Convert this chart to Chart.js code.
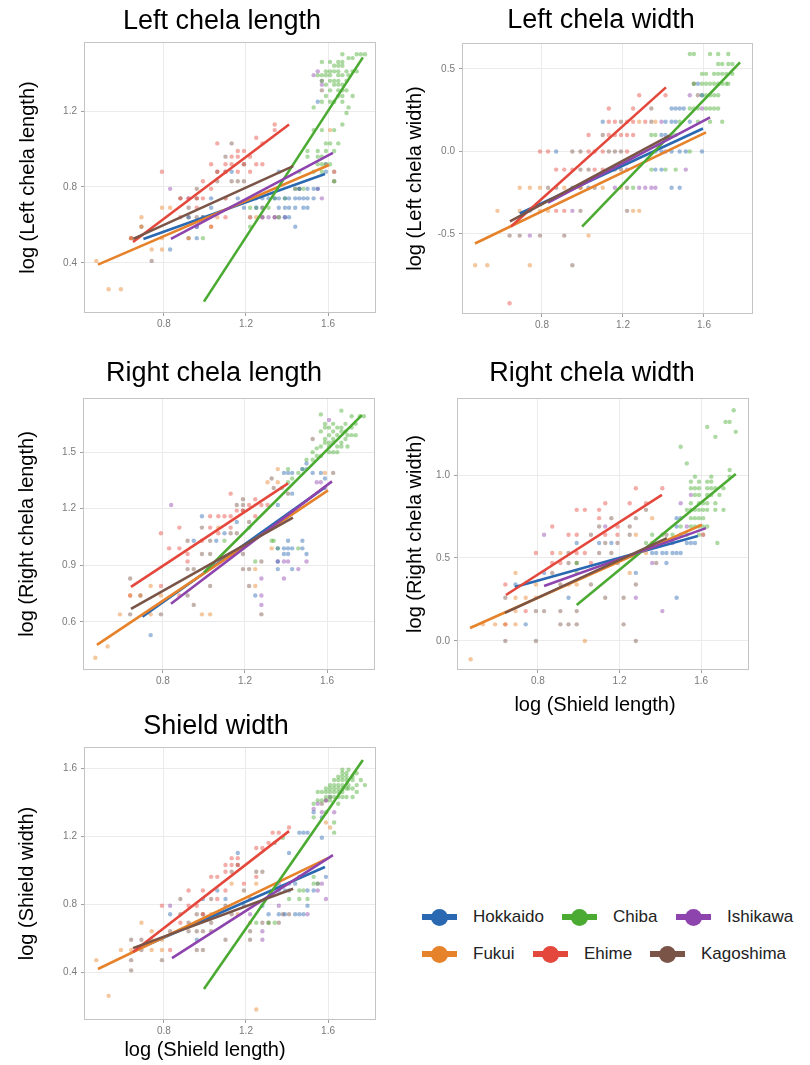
<!DOCTYPE html>
<html>
<head>
<meta charset="utf-8">
<script src="https://cdn.jsdelivr.net/npm/chart.js@4.4.1/dist/chart.umd.min.js"></script>
<style>
  body { margin: 0; background: #fff; width: 810px; height: 1065px; position: relative; overflow: hidden;
         font-family: "Liberation Sans", Arial, Helvetica, sans-serif; }
  canvas { position: absolute; }
  .lg { position: absolute; height: 18px; display: flex; align-items: center; font-size: 17px; color: #222; white-space: nowrap; }
  .mk { position: relative; width: 35px; height: 18px; margin-right: 16px; }
  .mk::before { content: ""; position: absolute; left: 0; right: 0; top: 6px; height: 6px; background: var(--c); }
  .mk::after { content: ""; position: absolute; left: 9px; top: 1px; width: 17px; height: 17px; border-radius: 50%; background: var(--c); }
</style>
</head>
<body>
<canvas id="lcl" width="400" height="335" style="left:0;top:0"></canvas>
<canvas id="lcw" width="410" height="335" style="left:400px;top:0"></canvas>
<canvas id="rcl" width="400" height="345" style="left:0;top:345px"></canvas>
<canvas id="rcw" width="410" height="375" style="left:400px;top:345px"></canvas>
<canvas id="sw" width="400" height="370" style="left:0;top:695px"></canvas>
<div id="legend"></div>

<script>
const regions = ["Hokkaido", "Fukui", "Chiba", "Ehime", "Ishikawa", "Kagoshima"];
const colors = ["#2a69b1", "#e6822a", "#4aaa31", "#e4473c", "#8d44ad", "#7a5547"];
const xTicks = [0.8, 1.2, 1.6];

// ---- Left chela length ----
const lclTicks = [0.4, 0.8, 1.2];
const lclPoints = {
  Hokkaido: [[0.83,0.47],[0.96,0.53],[0.96,0.59],[0.99,0.64],[1.03,0.69],[1.13,0.88],[1.16,0.74],[1.19,0.69],[1.25,0.69],[1.28,0.69],[1.31,0.74],[1.34,0.74],[1.36,0.74],[1.39,0.74],[1.41,0.74],[1.44,0.74],[1.46,0.74],[1.48,0.74],[1.50,0.74],[1.53,0.74],[1.36,0.69],[1.39,0.69],[1.41,0.69],[1.44,0.69],[1.48,0.69],[1.50,0.69],[1.50,0.79],[1.53,0.79],[1.55,0.79],[1.44,0.59],[1.39,0.64],[1.55,1.25],[1.59,0.88],[1.46,0.79],[1.36,0.88],[1.41,0.64],[1.28,0.74],[1.03,0.74],[0.92,0.64]],
  Fukui: [[0.47,0.41],[0.53,0.26],[0.59,0.26],[0.69,0.64],[0.69,0.59],[0.74,0.47],[0.79,0.47],[0.79,0.69],[0.83,0.69],[0.79,0.53],[0.92,0.53],[1.03,0.59],[1.06,0.64],[1.22,0.64],[1.25,0.64],[1.61,1.10],[1.63,0.88],[0.64,0.53],[1.10,0.74],[1.28,0.69]],
  Chiba: [[1.67,1.50],[1.74,1.50],[1.76,1.50],[1.78,1.50],[1.70,1.48],[1.72,1.48],[1.57,1.46],[1.61,1.46],[1.65,1.46],[1.67,1.46],[1.63,1.44],[1.65,1.44],[1.67,1.44],[1.59,1.41],[1.61,1.41],[1.63,1.41],[1.65,1.41],[1.69,1.41],[1.72,1.41],[1.74,1.41],[1.55,1.39],[1.57,1.39],[1.59,1.39],[1.61,1.39],[1.65,1.39],[1.67,1.39],[1.70,1.39],[1.57,1.36],[1.61,1.36],[1.63,1.36],[1.65,1.36],[1.69,1.36],[1.59,1.34],[1.63,1.34],[1.65,1.34],[1.67,1.34],[1.61,1.31],[1.65,1.31],[1.67,1.31],[1.69,1.31],[1.59,1.28],[1.65,1.28],[1.67,1.28],[1.72,1.28],[1.57,1.25],[1.61,1.25],[1.63,1.25],[1.67,1.25],[1.53,1.22],[1.70,1.22],[1.69,1.19],[1.67,1.13],[1.53,1.10],[1.57,1.10],[1.63,1.10],[1.59,1.03],[1.61,1.03],[1.65,1.03],[1.50,0.99],[1.55,0.99],[1.59,0.99],[1.63,0.99],[1.50,0.96],[1.55,0.96],[1.57,0.96],[1.55,0.92],[1.57,0.92],[1.59,0.92],[1.61,0.92],[1.46,0.88],[1.53,0.88],[1.57,0.88],[1.44,0.79],[1.46,0.79],[1.48,0.79],[1.63,0.83],[1.34,0.74],[1.39,0.74],[1.22,0.69],[1.25,0.69],[1.31,0.69],[0.99,0.53],[1.22,0.59],[1.36,0.64]],
  Ehime: [[0.64,0.53],[0.79,0.88],[0.88,0.74],[0.92,0.74],[0.96,0.69],[0.99,0.83],[1.03,0.79],[1.06,1.03],[1.06,0.88],[1.10,0.92],[1.13,0.96],[1.13,0.92],[1.16,0.99],[1.16,0.96],[1.19,0.99],[1.19,0.92],[1.22,0.96],[1.25,1.06],[1.28,1.03],[1.34,1.13],[1.34,1.10],[1.25,0.92],[1.28,0.92],[0.88,0.64],[1.03,0.59],[1.10,0.64],[1.03,0.92],[0.96,0.74],[1.10,0.88],[1.22,0.88],[0.99,0.74],[1.16,0.88]],
  Ishikawa: [[0.83,0.79],[0.96,0.59],[1.22,0.64],[1.28,0.64],[1.31,0.64],[1.34,0.64],[1.36,0.64],[1.39,0.64],[1.53,1.39],[1.57,1.36],[1.55,0.79],[1.57,0.74],[1.63,0.88],[1.59,0.92],[1.44,0.79],[1.46,0.79],[1.55,1.41],[1.57,1.34],[1.10,0.74],[1.25,0.74],[0.92,0.74]],
  Kagoshima: [[0.64,0.53],[0.69,0.59],[0.74,0.41],[0.88,0.74],[0.92,0.69],[0.96,0.79],[0.96,0.64],[0.99,0.64],[1.06,0.83],[1.10,0.96],[1.13,0.83],[1.16,0.83],[1.19,0.83],[1.13,1.03],[1.19,0.92],[1.28,0.64],[1.34,0.64],[1.63,0.83],[1.57,1.31],[0.92,0.53],[1.10,0.88],[0.96,0.74],[0.92,0.64],[1.06,0.88]]
};
const lclFits = {
  Hokkaido: [0.70, 0.526, 1.585, 0.868],
  Fukui: [0.478, 0.39, 1.605, 0.916],
  Chiba: [0.995, 0.195, 1.77, 1.484],
  Ehime: [0.649, 0.51, 1.41, 1.13],
  Ishikawa: [0.834, 0.526, 1.624, 0.98],
  Kagoshima: [0.65, 0.526, 1.43, 0.91]
};

// ---- Left chela width ----
const lcwTicks = [-0.5, 0.0, 0.5];
const lcwPoints = {
  Hokkaido: [[0.87,0],[0.74,-0.36],[0.95,-0.22],[1.36,0],[1.39,0],[1.44,0],[1.48,0],[1.51,0],[1.59,0],[1.36,-0.11],[1.39,-0.11],[1.39,0.10],[1.41,0.10],[1.41,0.18],[1.44,0.18],[1.46,0.18],[1.53,0.18],[1.44,0.26],[1.46,0.26],[1.48,0.26],[1.50,0.26],[1.59,0.34],[1.44,-0.22],[1.48,-0.22],[1.03,-0.22],[1.10,0.18],[1.57,0.41]],
  Fukui: [[0.47,-0.69],[0.53,-0.69],[0.74,-0.69],[0.58,-0.36],[0.69,-0.36],[0.79,-0.36],[0.83,-0.36],[0.69,-0.22],[0.74,-0.22],[0.79,-0.22],[0.91,-0.22],[1.03,-0.51],[1.10,-0.22],[1.25,-0.36],[1.28,-0.36],[1.28,0.18],[1.36,0.18],[1.19,-0.22],[0.99,-0.22]],
  Chiba: [[1.53,0.59],[1.55,0.59],[1.63,0.59],[1.67,0.59],[1.72,0.59],[1.67,0.53],[1.69,0.53],[1.72,0.53],[1.74,0.53],[1.59,0.47],[1.61,0.47],[1.65,0.47],[1.67,0.47],[1.69,0.47],[1.71,0.47],[1.74,0.47],[1.55,0.41],[1.59,0.41],[1.61,0.41],[1.63,0.41],[1.65,0.41],[1.67,0.41],[1.71,0.41],[1.72,0.41],[1.59,0.34],[1.61,0.34],[1.63,0.34],[1.65,0.34],[1.67,0.34],[1.53,0.26],[1.55,0.26],[1.57,0.26],[1.63,0.26],[1.65,0.26],[1.67,0.26],[1.48,0.18],[1.63,0.18],[1.69,0.18],[1.34,0.10],[1.36,0.10],[1.46,0.10],[1.53,0],[1.34,-0.11],[1.41,-0.11],[1.46,-0.11],[1.25,-0.22],[1.57,0.18],[1.61,0.26],[1.69,0.41]],
  Ehime: [[0.64,-0.92],[0.79,0],[0.83,0],[0.87,-0.36],[0.91,-0.36],[0.87,-0.11],[0.91,-0.11],[0.95,-0.11],[1.03,0],[1.06,0],[1.10,0],[1.03,0.10],[1.13,0.10],[1.16,0.10],[1.19,0.10],[1.22,0.10],[1.25,0.10],[1.13,0.18],[1.16,0.18],[1.22,0.18],[1.25,0.18],[1.31,0.18],[1.13,0.26],[1.25,0.26],[1.28,0.34],[1.41,0.34],[1.06,-0.11],[1.10,-0.11],[1.22,0]],
  Ishikawa: [[0.74,-0.51],[0.95,-0.36],[1.41,0],[1.44,0.10],[1.39,0.18],[1.59,0.26],[1.51,-0.11],[1.28,-0.22],[1.31,-0.22],[1.34,-0.22],[1.36,-0.22],[1.16,-0.22],[1.22,-0.11],[1.53,0.34]],
  Kagoshima: [[0.64,-0.51],[0.69,-0.51],[0.79,-0.51],[0.91,-0.51],[0.95,-0.69],[0.99,-0.36],[0.83,-0.22],[0.87,-0.22],[0.99,-0.22],[1.06,-0.22],[1.22,-0.36],[1.22,-0.22],[0.95,0],[0.99,0],[1.13,0],[1.16,0],[1.19,0],[0.99,-0.11],[1.03,-0.11],[1.13,-0.11],[1.16,-0.11],[1.19,-0.11],[1.10,0.10],[1.19,0.18],[1.34,0.18],[1.34,0.26],[1.57,0.34],[1.55,0.41]]
};
const lcwFits = {
  Hokkaido: [0.69, -0.376, 1.595, 0.139],
  Fukui: [0.469, -0.558, 1.61, 0.115],
  Chiba: [0.998, -0.455, 1.778, 0.54],
  Ehime: [0.647, -0.455, 1.412, 0.388],
  Ishikawa: [0.83, -0.31, 1.63, 0.206],
  Kagoshima: [0.642, -0.424, 1.432, 0.097]
};

// ---- Right chela length ----
const rclTicks = [0.6, 0.9, 1.2, 1.5];
const rclPoints = {
  Hokkaido: [[0.74,0.53],[1.25,0.74],[1.36,0.88],[1.43,0.88],[1.39,0.96],[1.41,0.96],[1.50,0.96],[1.36,0.99],[1.39,0.99],[1.41,0.99],[1.43,0.99],[1.48,0.99],[0.95,1.03],[1.41,1.03],[1.48,1.03],[1.10,1.07],[0.99,1.16],[1.16,1.13],[1.36,1.22],[1.43,1.28],[1.39,1.39],[1.41,1.39],[1.43,1.39],[1.53,1.39],[1.57,1.39],[1.48,1.41],[1.50,1.41],[1.50,1.44],[1.59,1.36],[1.36,0.92],[1.06,1.03]],
  Fukui: [[0.47,0.41],[0.53,0.47],[0.59,0.64],[0.74,0.64],[0.99,0.64],[1.03,0.64],[0.74,0.79],[0.69,0.74],[1.25,0.79],[1.25,0.88],[1.33,0.99],[1.31,1.34],[1.36,1.34],[1.36,1.41],[1.59,1.39],[0.79,0.74],[1.07,1.10],[0.64,0.74]],
  Chiba: [[1.53,1.50],[1.55,1.52],[1.57,1.53],[1.59,1.55],[1.61,1.55],[1.63,1.55],[1.65,1.53],[1.67,1.55],[1.69,1.57],[1.70,1.59],[1.72,1.59],[1.74,1.59],[1.59,1.57],[1.61,1.59],[1.63,1.57],[1.65,1.59],[1.67,1.61],[1.57,1.61],[1.59,1.63],[1.61,1.63],[1.63,1.61],[1.65,1.63],[1.67,1.63],[1.69,1.65],[1.72,1.63],[1.74,1.65],[1.76,1.69],[1.78,1.69],[1.72,1.69],[1.63,1.65],[1.59,1.65],[1.67,1.53],[1.70,1.53],[1.57,1.48],[1.61,1.50],[1.55,1.48],[1.53,1.46],[1.57,1.70],[1.67,1.72],[1.50,1.46],[1.48,1.41],[1.46,1.39],[1.41,1.41],[1.43,1.36],[1.38,1.31],[1.41,1.34],[1.34,1.03],[1.36,0.99],[1.46,0.99],[1.33,1.03],[1.25,0.92],[1.10,1.03],[1.22,1.10],[1.65,1.50],[1.61,1.53],[1.69,1.61],[1.63,1.50]],
  Ehime: [[0.64,0.74],[0.79,0.79],[0.92,0.96],[0.83,0.99],[0.88,0.99],[0.79,1.07],[1.07,1.07],[0.88,1.10],[1.13,1.10],[1.03,1.16],[1.07,1.16],[1.10,1.16],[1.13,1.16],[1.25,1.16],[1.16,1.19],[1.22,1.22],[1.31,1.22],[1.25,1.25],[1.13,1.28],[0.88,0.74],[0.99,1.03],[1.19,1.19],[1.28,1.22],[0.92,0.92],[1.03,1.10]],
  Ishikawa: [[0.84,1.22],[1.28,0.69],[1.28,0.74],[1.28,0.83],[1.36,0.92],[1.39,0.92],[1.41,0.92],[1.50,0.92],[1.39,0.83],[1.57,1.34],[1.61,1.67],[1.59,1.31],[1.55,1.34],[1.46,0.88]],
  Kagoshima: [[0.64,0.64],[0.79,0.64],[1.28,0.64],[0.92,0.74],[0.64,0.83],[1.03,0.79],[1.22,0.79],[0.92,0.88],[0.95,0.88],[1.19,0.88],[1.22,0.88],[1.28,0.92],[0.99,0.96],[1.03,0.96],[1.19,0.96],[0.92,1.03],[1.03,1.03],[1.13,1.07],[1.16,1.07],[0.99,1.10],[1.22,1.13],[1.19,1.19],[1.16,1.22],[1.19,1.22],[1.19,1.25],[1.41,1.28],[1.33,1.36],[1.63,1.39],[1.53,1.57],[0.95,0.69],[1.34,1.31],[0.69,0.74]]
};
const rclFits = {
  Hokkaido: [0.70, 0.627, 1.59, 1.313],
  Fukui: [0.478, 0.478, 1.605, 1.297],
  Chiba: [1.0, 0.862, 1.77, 1.696],
  Ehime: [0.644, 0.786, 1.41, 1.334],
  Ishikawa: [0.839, 0.696, 1.624, 1.345],
  Kagoshima: [0.644, 0.669, 1.434, 1.153]
};

// ---- Right chela width ----
const rcwTicks = [0.0, 0.5, 1.0];
const rcwPoints = {
  Hokkaido: [[0.74,0.10],[0.69,0.34],[0.83,0.41],[0.95,0.26],[0.99,0.59],[1.10,0.59],[1.28,0.41],[1.43,0.47],[1.36,0.53],[1.38,0.53],[1.41,0.53],[1.43,0.53],[1.46,0.53],[1.48,0.53],[1.50,0.53],[1.53,0.59],[1.55,0.59],[1.57,0.59],[1.48,0.74],[1.50,0.74],[1.48,0.26],[1.48,0.69],[1.50,0.64],[1.16,0.59]],
  Fukui: [[0.47,-0.11],[0.53,0.10],[0.59,0.10],[0.64,0.10],[0.69,0.10],[1.03,0],[0.69,0.18],[0.69,0.26],[0.74,0.26],[0.79,0.26],[0.79,0.34],[0.69,0.41],[0.95,0.34],[0.99,0.34],[1.25,0.41],[1.28,0.64],[1.33,0.53],[1.36,0.59],[1.41,0.59],[1.36,0.74],[0.91,0.53],[1.61,0.64]],
  Chiba: [[0.99,0.47],[0.99,0.41],[1.33,0.59],[1.36,0.64],[1.41,0.64],[1.46,0.64],[1.50,0.69],[1.55,0.69],[1.57,0.69],[1.59,0.69],[1.61,0.69],[1.63,0.69],[1.55,0.74],[1.57,0.74],[1.59,0.74],[1.61,0.74],[1.53,0.79],[1.55,0.79],[1.57,0.79],[1.59,0.79],[1.61,0.79],[1.63,0.79],[1.67,0.79],[1.71,0.79],[1.55,0.83],[1.59,0.83],[1.61,0.83],[1.63,0.83],[1.67,0.83],[1.57,0.88],[1.59,0.88],[1.63,0.88],[1.65,0.88],[1.69,0.88],[1.55,0.92],[1.57,0.92],[1.59,0.92],[1.63,0.92],[1.65,0.92],[1.67,0.92],[1.71,0.92],[1.55,0.96],[1.59,0.96],[1.63,0.96],[1.65,0.96],[1.57,0.99],[1.65,0.99],[1.74,0.99],[1.74,1.03],[1.53,1.07],[1.50,1.17],[1.67,1.23],[1.63,1.29],[1.72,1.32],[1.74,1.32],[1.77,1.26],[1.76,1.39],[1.68,0.59],[1.53,0.64],[1.59,0.64]],
  Ehime: [[0.64,0.34],[0.74,0.18],[0.87,0.47],[0.91,0.47],[1.06,0.47],[0.79,0.53],[0.87,0.53],[0.99,0.53],[1.03,0.53],[0.99,0.64],[1.13,0.64],[1.19,0.64],[0.87,0.69],[1.19,0.69],[1.10,0.74],[0.99,0.79],[1.10,0.79],[1.13,0.83],[1.25,0.83],[1.33,0.83],[1.28,0.92],[1.41,0.92],[0.64,0.10],[1.03,0.79],[0.95,0.64]],
  Ishikawa: [[0.83,0.64],[1.13,0.69],[1.28,0.26],[1.41,0.18],[1.36,0.47],[1.53,0.69],[1.50,0.83],[1.55,0.88],[1.46,0.59],[1.61,0.64]],
  Kagoshima: [[0.64,0],[0.79,0],[1.28,0],[0.91,0.10],[0.95,0.10],[0.99,0.10],[1.22,0.10],[0.79,0.18],[0.91,0.18],[0.99,0.18],[0.64,0.26],[1.13,0.26],[1.22,0.26],[0.91,0.34],[1.06,0.34],[1.28,0.34],[0.87,0.41],[0.95,0.47],[1.19,0.47],[1.38,0.47],[0.95,0.53],[1.10,0.53],[1.16,0.53],[1.13,0.59],[1.19,0.59],[1.06,0.64],[1.25,0.64],[1.43,0.64],[1.10,0.69],[1.25,0.69],[1.16,0.74],[1.28,0.74],[1.33,0.79],[0.99,0.47],[0.83,0.18]]
};
const rcwFits = {
  Hokkaido: [0.687, 0.325, 1.584, 0.633],
  Fukui: [0.467, 0.078, 1.604, 0.70],
  Chiba: [0.99, 0.217, 1.77, 1.006],
  Ehime: [0.643, 0.277, 1.408, 0.88],
  Ishikawa: [0.83, 0.331, 1.624, 0.68],
  Kagoshima: [0.638, 0.169, 1.432, 0.62]
};

// ---- Shield width ----
const swTicks = [0.4, 0.8, 1.2, 1.6];
const swPoints = {
  Hokkaido: [[0.96,0.59],[0.83,0.74],[1.31,0.74],[1.44,0.74],[1.46,0.74],[1.48,0.74],[0.99,0.83],[1.10,0.83],[1.06,0.88],[1.36,0.88],[1.39,0.88],[1.41,0.88],[1.50,0.88],[1.53,0.88],[1.41,0.92],[1.44,0.92],[1.46,0.96],[1.59,0.96],[1.16,1.10],[1.41,1.10],[1.46,1.22],[1.48,1.22],[1.50,1.22],[1.57,1.31],[1.53,1.34],[1.57,1.19],[1.28,0.79],[1.50,0.79],[1.19,0.79],[1.36,0.74],[1.39,0.74]],
  Fukui: [[1.25,0.18],[0.53,0.26],[0.47,0.47],[0.59,0.53],[0.74,0.53],[0.79,0.53],[0.74,0.59],[0.79,0.59],[0.74,0.64],[0.69,0.69],[0.96,0.69],[1.03,0.74],[1.06,0.74],[1.16,0.74],[1.13,0.92],[1.25,0.92],[1.61,1.25],[1.59,1.28],[0.64,0.53],[1.22,0.69]],
  Chiba: [[1.25,0.69],[1.41,0.83],[1.46,0.83],[1.50,0.83],[1.46,0.88],[1.48,0.88],[1.53,0.96],[1.53,0.92],[1.55,0.92],[1.34,0.69],[1.31,0.69],[1.38,1.19],[1.53,1.39],[1.55,1.41],[1.57,1.41],[1.59,1.43],[1.61,1.43],[1.63,1.43],[1.65,1.43],[1.67,1.43],[1.69,1.43],[1.72,1.43],[1.55,1.46],[1.57,1.46],[1.59,1.46],[1.61,1.46],[1.63,1.46],[1.65,1.46],[1.67,1.46],[1.59,1.48],[1.61,1.48],[1.63,1.48],[1.65,1.48],[1.67,1.48],[1.69,1.48],[1.70,1.48],[1.72,1.48],[1.74,1.46],[1.61,1.50],[1.63,1.50],[1.65,1.50],[1.67,1.50],[1.70,1.50],[1.74,1.50],[1.63,1.53],[1.65,1.53],[1.67,1.53],[1.69,1.53],[1.72,1.53],[1.65,1.55],[1.67,1.55],[1.69,1.55],[1.72,1.55],[1.67,1.57],[1.69,1.57],[1.74,1.57],[1.67,1.59],[1.70,1.59],[1.78,1.50],[1.76,1.53],[1.61,1.41],[1.65,1.39],[1.59,1.34],[1.63,1.22],[1.63,1.28],[1.53,1.31]],
  Ehime: [[0.83,0.53],[0.79,0.79],[0.88,0.69],[0.92,0.79],[0.96,0.79],[0.92,0.88],[0.99,0.88],[1.10,0.88],[1.03,0.96],[1.06,0.96],[1.25,0.96],[1.10,0.99],[1.10,1.03],[1.13,1.03],[1.13,1.07],[1.16,1.07],[1.25,1.13],[1.28,1.13],[1.33,1.22],[1.36,1.22],[1.41,1.25],[1.19,0.92],[1.16,1.03],[0.99,0.74],[1.31,1.16],[1.06,0.83]],
  Ishikawa: [[0.83,0.79],[1.28,0.59],[1.28,0.64],[1.36,0.79],[1.50,0.74],[1.59,0.83],[1.55,0.88],[1.55,0.92],[1.57,0.92],[1.53,1.36],[1.57,1.34],[1.63,1.34],[1.55,1.39],[1.59,1.41],[1.61,1.43],[1.36,0.92],[1.22,0.74]],
  Kagoshima: [[0.64,0.41],[0.64,0.47],[0.79,0.47],[0.69,0.53],[0.96,0.53],[0.99,0.53],[0.64,0.59],[0.69,0.59],[1.10,0.59],[1.22,0.59],[0.83,0.64],[0.92,0.64],[0.96,0.64],[0.99,0.64],[1.03,0.64],[1.22,0.64],[0.92,0.69],[1.03,0.69],[1.28,0.69],[1.31,0.69],[1.36,0.69],[0.88,0.74],[0.96,0.74],[0.99,0.74],[1.13,0.74],[1.38,0.74],[1.41,0.74],[1.10,0.79],[0.88,0.83],[1.03,0.83],[1.22,0.83],[1.19,0.88],[1.13,0.99],[1.25,0.99],[1.28,0.99],[1.16,1.03],[1.59,1.41],[1.57,1.39],[1.34,1.16]]
};
const swFits = {
  Hokkaido: [0.70, 0.55, 1.585, 1.018],
  Fukui: [0.478, 0.418, 1.60, 1.07],
  Chiba: [0.995, 0.30, 1.77, 1.647],
  Ehime: [0.649, 0.518, 1.41, 1.229],
  Ishikawa: [0.839, 0.482, 1.624, 1.088],
  Kagoshima: [0.649, 0.541, 1.43, 0.89]
};

const FONT = '"Liberation Sans", Arial, Helvetica, sans-serif';
Chart.defaults.font.family = FONT;

function fade(hex, a) {
  const n = parseInt(hex.slice(1), 16);
  return `rgba(${n >> 16},${(n >> 8) & 255},${n & 255},${a})`;
}

// panel border plus title / x-axis title drawn at their places in the figure
function panelDecor(texts) {
  return {
    id: "panelDecor",
    afterDraw(chart) {
      const { ctx, chartArea: a } = chart;
      ctx.save();
      ctx.strokeStyle = "#c4c4c4";
      ctx.lineWidth = 1;
      ctx.strokeRect(Math.round(a.left) + 0.5, Math.round(a.top) + 0.5, Math.round(a.right - a.left) - 1, Math.round(a.bottom - a.top) - 1);
      ctx.fillStyle = "#000";
      ctx.textAlign = "center";
      ctx.textBaseline = "alphabetic";
      texts.forEach(t => {
        ctx.font = `${t.size}px ${FONT}`;
        ctx.fillText(t.text, t.x, t.y);
      });
      ctx.restore();
    }
  };
}

function makePanel(id, p) {
  const datasets = [];
  regions.forEach((r, i) => {
    datasets.push({
      data: p.points[r].map(([x, y]) => ({ x, y })),
      backgroundColor: fade(colors[i], 0.45),
      borderWidth: 0,
      pointRadius: 2.2,
      order: 10
    });
  });
  regions.forEach((r, i) => {
    const f = p.fits[r];
    datasets.push({
      data: [{ x: f[0], y: f[1] }, { x: f[2], y: f[3] }],
      showLine: true,
      borderColor: colors[i],
      borderWidth: 2.6,
      pointRadius: 0,
      order: 5 - i
    });
  });

  const canvas = document.getElementById(id);
  new Chart(canvas, {
    type: "scatter",
    data: { datasets },
    plugins: [panelDecor(p.texts)],
    options: {
      responsive: false,
      animation: false,
      events: [],
      layout: { padding: p.pad },
      plugins: { legend: { display: false }, tooltip: { enabled: false }, title: { display: false } },
      scales: {
        x: {
          type: "linear",
          min: p.xRange[0], max: p.xRange[1],
          afterBuildTicks: s => { s.ticks = xTicks.map(v => ({ value: v })); },
          afterFit: s => { s.height = p.xAxisH; },
          border: { display: false },
          grid: { color: "#ebebeb", tickColor: "#a0a0a0", tickLength: 3 },
          ticks: { color: "#7a7a7a", font: { size: 10 }, padding: 2, callback: v => v.toFixed(1) }
        },
        y: {
          type: "linear",
          min: p.yRange[0], max: p.yRange[1],
          afterBuildTicks: s => { s.ticks = p.yTicks.map(v => ({ value: v })); },
          afterFit: s => { s.width = p.yAxisW; },
          border: { display: false },
          grid: { color: "#ebebeb", tickColor: "#a0a0a0", tickLength: 3 },
          ticks: { color: "#7a7a7a", font: { size: 10 }, padding: 4, callback: v => v.toFixed(1) },
          title: { display: true, text: p.yTitle, color: "#000", font: { size: 20 }, padding: { top: p.yTitlePad, bottom: 0 } }
        }
      }
    }
  });
}

makePanel("lcl", {
  points: lclPoints, fits: lclFits, yTicks: lclTicks,
  xRange: [0.41, 1.834], yRange: [0.135, 1.565],
  pad: { left: 0, right: 24, top: 42, bottom: 0 }, xAxisH: 22, yAxisW: 84, yTitlePad: 16,
  yTitle: "log (Left chela length)",
  texts: [{ text: "Left chela length", x: 222, y: 29, size: 27 }]
});
makePanel("lcw", {
  points: lcwPoints, fits: lcwFits, yTicks: lcwTicks,
  xRange: [0.405, 1.842], yRange: [-0.985, 0.657],
  pad: { left: 0, right: 57, top: 43, bottom: 0 }, xAxisH: 21, yAxisW: 62, yTitlePad: 3,
  yTitle: "log (Left chela width)",
  texts: [{ text: "Left chela width", x: 201, y: 28, size: 27 }]
});
makePanel("rcl", {
  points: rclPoints, fits: rclFits, yTicks: rclTicks,
  xRange: [0.41, 1.834], yRange: [0.345, 1.787],
  pad: { left: 0, right: 25, top: 53, bottom: 0 }, xAxisH: 20, yAxisW: 83, yTitlePad: 15,
  yTitle: "log (Right chela length)",
  texts: [{ text: "Right chela length", x: 214, y: 36, size: 27 }]
});
makePanel("rcw", {
  points: rcwPoints, fits: rcwFits, yTicks: rcwTicks,
  xRange: [0.403, 1.835], yRange: [-0.175, 1.464],
  pad: { left: 0, right: 61, top: 53, bottom: 28 }, xAxisH: 22, yAxisW: 57, yTitlePad: 3,
  yTitle: "log (Right chela width)",
  texts: [{ text: "Right chela width", x: 192, y: 36, size: 27 },
          { text: "log (Shield length)", x: 195, y: 366, size: 20 }]
});
makePanel("sw", {
  points: swPoints, fits: swFits, yTicks: swTicks,
  xRange: [0.41, 1.834], yRange: [0.118, 1.724],
  pad: { left: 0, right: 24, top: 52, bottom: 23 }, xAxisH: 22, yAxisW: 84, yTitlePad: 15,
  yTitle: "log (Shield width)",
  texts: [{ text: "Shield width", x: 216, y: 39, size: 27 },
          { text: "log (Shield length)", x: 205, y: 361, size: 20 }]
});

// legend: two rows, filled column by column
const legendSpots = [[422, 908], [422, 945], [562, 908], [533, 945], [676, 908], [650, 945]];
const legend = document.getElementById("legend");
regions.forEach((r, i) => {
  const d = document.createElement("div");
  d.className = "lg";
  d.style.left = legendSpots[i][0] + "px";
  d.style.top = legendSpots[i][1] + "px";
  d.innerHTML = `<span class="mk" style="--c:${colors[i]}"></span>${r}`;
  legend.appendChild(d);
});
</script>
</body>
</html>
